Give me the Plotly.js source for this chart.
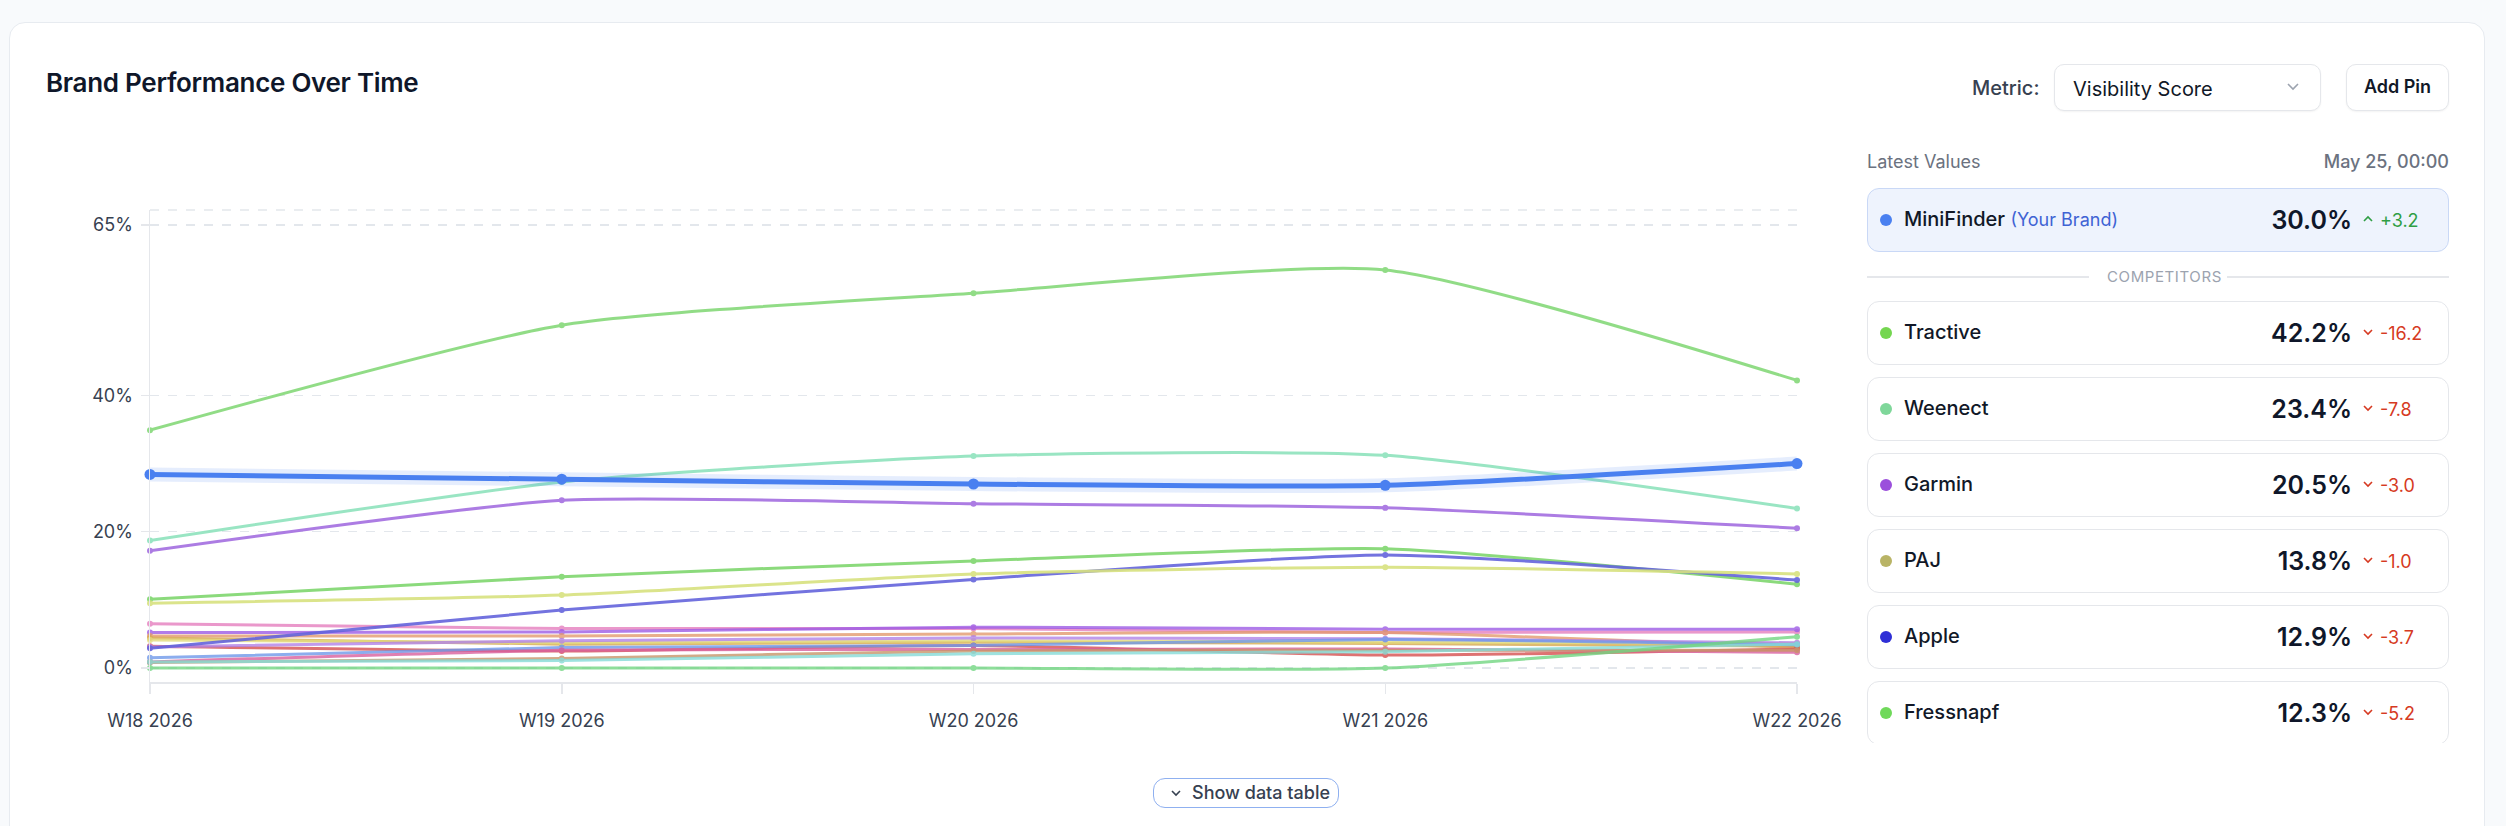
<!DOCTYPE html>
<html>
<head>
<meta charset="utf-8">
<script src="https://cdn.plot.ly/plotly-3.0.1.min.js"></script>
<style>
  html, body { margin:0; padding:0; width:2506px; height:826px; overflow:hidden; background:#f8fafc; font-family: Inter, "Noto Sans", sans-serif; }
  #card { position:absolute; left:9px; top:22px; width:2476px; height:900px; background:#fff; border:1.5px solid #e7ebf0; border-radius:16px; box-sizing:border-box; }
  #title { position:absolute; left:46px; top:67px; font-size:26px; font-weight:600; color:#0f172a; letter-spacing:-0.3px; }
  #plot { position:absolute; left:0; top:0; width:1870px; height:826px; }
  .abs { position:absolute; }
  #metricLbl { left:1972px; top:76px; font-size:20px; font-weight:500; color:#374151; }
  #dropdown { left:2054px; top:64px; width:267px; height:47px; border:1.5px solid #e5e7eb; border-radius:10px; box-sizing:border-box; background:#fff; box-shadow:0 1px 2px rgba(0,0,0,0.05); }
  #dropdown span { position:absolute; left:18px; top:12px; font-size:20px; color:#111827; }
  #dropdown svg { position:absolute; right:20px; top:17px; }
  #addPin { left:2346px; top:64px; width:103px; height:47px; border:1.5px solid #e5e7eb; border-radius:10px; box-sizing:border-box; background:#fff; box-shadow:0 1px 2px rgba(0,0,0,0.05); font-size:18px; font-weight:600; color:#111827; text-align:center; line-height:44px; }
  #latestLbl { left:1867px; top:151px; font-size:18px; color:#6b7280; }
  #latestDate { left:2249px; width:200px; text-align:right; top:151px; font-size:18px; font-weight:500; color:#6b7280; }
  #list { position:absolute; left:1867px; top:188px; width:582px; height:555px; overflow:hidden; }
  .row { position:absolute; left:0; width:582px; height:64px; border:1.5px solid #e5e7eb; border-radius:12px; box-sizing:border-box; background:#fff; }
  .row.own { background:#eef3fd; border-color:#c9d8f6; }
  .dot { position:absolute; left:12px; top:25px; width:12px; height:12px; border-radius:50%; }
  .name { position:absolute; left:36px; top:18px; font-size:20px; font-weight:500; color:#111827; white-space:nowrap; }
  .name .yb { font-size:18px; font-weight:400; color:#3f63d4; }
  .val { position:absolute; right:96px; top:16px; font-size:25px; font-weight:600; color:#0f172a; }
  .delta { position:absolute; left:496px; top:21px; font-size:18px; white-space:nowrap; }
  .delta svg { position:absolute; left:-2px; top:5px; }
  .delta span { position:absolute; left:16px; top:0; }
  #compLbl { position:absolute; left:0; top:79px; width:582px; height:20px; }
  #compLbl .ln { position:absolute; top:9px; height:1.5px; background:#e5e7eb; }
  #compLbl .tx { position:absolute; left:240px; width:102px; text-align:center; top:0; font-size:15px; letter-spacing:0.6px; color:#9ca3af; }
  #btn { left:1153px; top:778px; width:186px; height:30px; border:1.5px solid #8fb0f0; border-radius:12px; box-sizing:border-box; background:#fff; font-size:18px; font-weight:500; color:#374151; }
  #btn svg { position:absolute; left:16px; top:10px; }
  #btn span { position:absolute; left:38px; top:3px; white-space:nowrap; }
</style>
</head>
<body>
<div id="card"></div>
<div id="title">Brand Performance Over Time</div>
<div id="plot"></div>
<div class="abs" id="metricLbl">Metric:</div>
<div class="abs" id="dropdown"><span>Visibility Score</span>
  <svg width="14" height="10" viewBox="0 0 14 10"><path d="M2 2 L7 7 L12 2" fill="none" stroke="#9ca3af" stroke-width="1.6"/></svg></div>
<div class="abs" id="addPin">Add Pin</div>
<div class="abs" id="latestLbl">Latest Values</div>
<div class="abs" id="latestDate">May 25, 00:00</div>
<div id="list"></div>
<div class="abs" id="btn"><svg width="12" height="9" viewBox="0 0 12 9"><path d="M2 2 L6 6 L10 2" fill="none" stroke="#374151" stroke-width="1.6"/></svg><span>Show data table</span></div>

<script>
// ---- data ----
const weeks = ['W18 2026', 'W19 2026', 'W20 2026', 'W21 2026', 'W22 2026'];
const latestDateLabel = 'May 25, 00:00';

const ownBrand = 'MiniFinder';
const miniFinder = [28.4, 27.7, 27.0, 26.8, 30.0];

const tractive  = [34.9, 50.3, 55.0, 58.4, 42.2];
const weenect   = [18.7, 27.3, 31.1, 31.2, 23.4];
const garmin    = [17.2, 24.6, 24.1, 23.5, 20.5];
const paj       = [9.5, 10.7, 13.8, 14.8, 13.8];
const apple     = [2.9, 8.5, 13.0, 16.6, 12.9];
const fressnapf = [10.1, 13.4, 15.7, 17.5, 12.3];

// smaller competitors (not listed in the side panel)
const other1  = [6.5, 5.8, 5.8, 5.2, 5.3];
const other2  = [5.2, 5.3, 6.0, 5.7, 5.7];
const other3  = [4.7, 4.7, 5.0, 5.2, 3.0];
const other4  = [4.4, 3.5, 3.8, 3.6, 3.2];
const other5  = [4.1, 3.7, 4.0, 3.8, 3.6];
const other6  = [3.2, 2.5, 3.3, 1.9, 2.8];
const other7  = [3.1, 4.0, 4.4, 4.3, 3.7];
const other8  = [1.5, 3.0, 3.3, 4.2, 3.4];
const other9  = [0.9, 2.6, 2.7, 2.8, 2.3];
const other10 = [0.8, 1.4, 2.5, 2.6, 2.6];
const other11 = [0.9, 1.1, 2.1, 2.4, 3.5];
const other12 = [0.0, 0.0, 0.0, 0.0, 4.6];

const yTickVals = [0, 20, 40, 65];
const yTickText = ['0%', '20%', '40%', '65%'];

// ---- styling ----
const competitors = [
  {name:'Tractive',  y:tractive,  line:'#86d97a', dot:'#74d650'},
  {name:'Weenect',   y:weenect,   line:'#8fe3bd', dot:'#7fd79a'},
  {name:'Garmin',    y:garmin,    line:'#a46ee0', dot:'#9b4fdc'},
  {name:'PAJ',       y:paj,       line:'#d8e27f', dot:'#b9b466'},
  {name:'Apple',     y:apple,     line:'#6464dc', dot:'#2f2fd6'},
  {name:'Fressnapf', y:fressnapf, line:'#7fd66e', dot:'#6fd95a'}
];
const others = [
  {y:other1,  c:'#e57fbf'}, {y:other2,  c:'#9d5ce6'}, {y:other3,  c:'#e39a6f'},
  {y:other4,  c:'#d7a94e'}, {y:other5,  c:'#e3dc7e'}, {y:other6,  c:'#d64f4f'},
  {y:other7,  c:'#b283e8'}, {y:other8,  c:'#7099ea'}, {y:other9,  c:'#d9609e'},
  {y:other10, c:'#c9956a'}, {y:other11, c:'#86dcd8'}, {y:other12, c:'#72d682'}
];
const ownColor = '#4a80f0';

const traces = [];
others.forEach((o, i) => traces.push({
  x: weeks, y: o.y, type:'scatter', mode:'lines+markers', name:'Other ' + (i+1),
  line:{color:o.c, width:3, shape:'spline', smoothing:0.6}, marker:{color:o.c, size:6},
  opacity:0.8, cliponaxis:false, hoverinfo:'skip'
}));
competitors.slice().reverse().forEach(c => traces.push({
  x: weeks, y: c.y, type:'scatter', mode:'lines+markers', name:c.name,
  line:{color:c.line, width:3, shape:'spline', smoothing:0.6}, marker:{color:c.line, size:6},
  opacity:0.9, cliponaxis:false
}));
traces.push({
  x: weeks, y: miniFinder, type:'scatter', mode:'lines', name:ownBrand + ' glow',
  line:{color:'rgba(74,128,240,0.14)', width:14, shape:'spline', smoothing:0.6},
  cliponaxis:false, hoverinfo:'skip'
});
traces.push({
  x: weeks, y: miniFinder, type:'scatter', mode:'lines+markers', name:ownBrand,
  line:{color:ownColor, width:5, shape:'spline', smoothing:0.6}, marker:{color:ownColor, size:11},
  cliponaxis:false
});

const layout = {
  width:1870, height:826,
  margin:{l:150, r:73, t:210, b:144},
  paper_bgcolor:'rgba(0,0,0,0)', plot_bgcolor:'rgba(0,0,0,0)',
  showlegend:false,
  font:{family:'Inter, "Noto Sans", sans-serif', size:18, color:'#374151'},
  xaxis:{
    type:'category', range:[0, weeks.length - 1], showgrid:false, zeroline:false,
    showline:true, linecolor:'#e5e7eb', linewidth:1.5,
    ticks:'outside', ticklen:10, tickcolor:'#e5e7eb', tickwidth:1.5,
    tickfont:{size:18, color:'#374151'}, ticklabelstandoff:12
  },
  yaxis:{
    range:[-2.05, 67.2], tickmode:'array', tickvals:yTickVals, ticktext:yTickText,
    showline:true, linecolor:'#e5e7eb', linewidth:1.5,
    ticks:'outside', ticklen:8, tickcolor:'#e5e7eb', tickwidth:1.5,
    showgrid:true, gridcolor:'#e3e7ec', griddash:'dash', gridwidth:1.5, zeroline:false,
    tickfont:{size:18, color:'#374151'}, ticklabelstandoff:4
  },
  shapes:[{type:'line', xref:'paper', yref:'paper', x0:0, x1:1, y0:1, y1:1,
           line:{color:'#e3e7ec', width:1.5, dash:'dash'}}]
};
Plotly.newPlot('plot', traces, layout, {displayModeBar:false, staticPlot:true});

// ---- side panel ----
document.getElementById('latestDate').textContent = latestDateLabel;
const list = document.getElementById('list');
const up = '<svg width="12" height="8" viewBox="0 0 12 8"><path d="M2 6 L6 2 L10 6" fill="none" stroke="#2f9e44" stroke-width="1.6"/></svg>';
const down = '<svg width="12" height="8" viewBox="0 0 12 8"><path d="M2 2 L6 6 L10 2" fill="none" stroke="#d63a22" stroke-width="1.6"/></svg>';
function rowHtml(name, color, series, own) {
  const last = series[series.length-1], prev = series[series.length-2];
  const d = last - prev;
  const dTxt = (d >= 0 ? '+' : '') + d.toFixed(1);
  const dColor = d >= 0 ? '#2f9e44' : '#d63a22';
  return '<div class="dot" style="background:' + color + '"></div>' +
    '<div class="name">' + name + (own ? ' <span class="yb">(Your Brand)</span>' : '') + '</div>' +
    '<div class="val">' + last.toFixed(1) + '%</div>' +
    '<div class="delta" style="color:' + dColor + '">' + (d >= 0 ? up : down) + '<span>' + dTxt + '</span></div>';
}
const own = document.createElement('div');
own.className = 'row own'; own.style.top = '0px';
own.innerHTML = rowHtml(ownBrand, ownColor, miniFinder, true);
list.appendChild(own);
const comp = document.createElement('div');
comp.id = 'compLbl';
comp.innerHTML = '<div class="ln" style="left:0;width:222px"></div><div class="tx">COMPETITORS</div><div class="ln" style="left:360px;width:222px"></div>';
list.appendChild(comp);
const sorted = competitors.slice().sort((a,b) => b.y[b.y.length-1] - a.y[a.y.length-1]);
sorted.forEach((c, i) => {
  const r = document.createElement('div');
  r.className = 'row';
  r.style.top = (113 + i*76) + 'px';
  r.innerHTML = rowHtml(c.name, c.dot, c.y, false);
  list.appendChild(r);
});
</script>
</body>
</html>
